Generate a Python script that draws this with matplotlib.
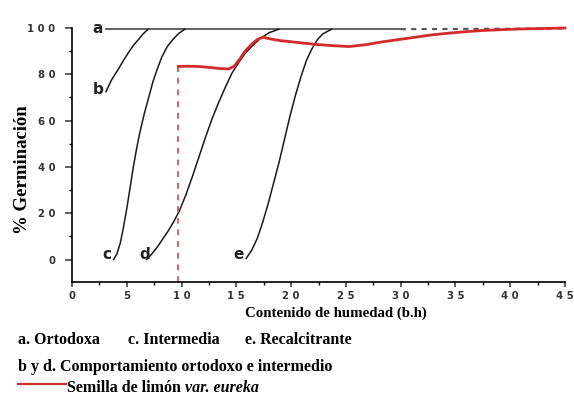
import matplotlib
matplotlib.use("Agg")
import matplotlib.pyplot as plt
from matplotlib.ticker import MultipleLocator, FixedLocator

# ---- data ----
a_x = [3.1, 30.0]
a_y = [99.5, 99.5]
a_dash_x = [30.0, 45.0]
a_dash_y = [99.5, 99.8]

b_x = [3.1, 3.6, 4.2, 4.7, 5.1, 5.6, 6.1, 6.5, 6.95]
b_y = [72.5, 77.5, 82.0, 86.0, 89.0, 92.5, 95.2, 97.5, 99.5]

c_x = [3.8, 4.1, 4.4, 4.7, 5.0, 5.3, 5.6, 5.9, 6.2, 6.6, 7.0, 7.4, 7.8, 8.2, 8.7,
       9.2, 9.7, 10.3]
c_y = [0.0, 2.5, 7.0, 14.0, 22.0, 31.0, 40.0, 48.0, 55.0, 63.0, 70.0, 77.0, 82.5,
       87.5, 92.0, 95.0, 97.5, 99.5]

d_x = [6.8, 7.3, 7.8, 8.3, 8.8, 9.3, 9.8, 10.4, 11.0, 11.6, 12.2, 12.8, 13.4, 14.0,
       14.6, 15.2, 15.8, 16.5, 17.2, 18.0, 18.9]
d_y = [0.0, 2.5, 5.5, 9.0, 12.5, 16.5, 21.0, 28.0, 36.0, 44.5, 53.0, 61.0, 68.0,
       74.5, 80.5, 85.0, 89.0, 92.5, 95.5, 98.0, 99.5]

e_x = [15.9, 16.4, 16.9, 17.4, 17.9, 18.4, 18.9, 19.4, 19.9, 20.4, 20.9, 21.4, 21.9,
       22.4, 22.9, 23.7]
e_y = [0.5, 4.0, 9.0, 16.0, 24.0, 33.0, 42.0, 52.0, 62.0, 71.0, 79.0, 86.0, 91.0,
       95.0, 97.5, 99.5]

lemon_x = [9.7, 10.5, 11.5, 12.5, 13.5, 14.3, 14.8, 15.3, 15.8, 16.4, 16.9, 17.4,
           18.2, 19.1, 20.5, 22.1, 23.7, 25.3, 26.8, 28.3, 29.8, 31.3, 32.8, 34.4,
           35.9, 37.4, 39.2, 41.0, 43.0, 45.0]
lemon_y = [83.4, 83.5, 83.4, 83.0, 82.5, 82.3, 83.5, 86.5, 90.0, 93.0, 95.0, 96.0,
           95.2, 94.5, 93.8, 93.0, 92.4, 92.0, 92.8, 94.0, 95.0, 96.0, 97.0, 97.8,
           98.4, 98.9, 99.3, 99.6, 99.8, 100.0]
lemon_drop_x = [9.7, 9.7]
lemon_drop_y = [-9.7, 83.0]

curve_labels = ["a", "b", "c", "d", "e"]
label_pos = [(2.3, 99.8), (2.4, 73.5), (3.2, 2.0), (6.6, 2.0), (15.2, 2.0)]

y_ticks = [0, 20, 40, 60, 80, 100]
y_ticklabels = ["0", "2 0", "4 0", "6 0", "8 0", "1 0 0"]
x_ticks = [0, 5, 10, 15, 20, 25, 30, 35, 40, 45]
x_ticklabels = ["0", "5", "1 0", "1 5", "2 0", "2 5", "3 0", "3 5", "4 0", "4 5"]

# ---- figure ----
W, H = 574, 399
fig = plt.figure(figsize=(W / 100, H / 100), dpi=100)
ax = fig.add_axes([72 / W, 117 / H, (565 - 72) / W, (373.3 - 117) / H])

blk = "#1a1a1a"
red = "#d42a2a"
ax.plot(a_x, a_y, color="#555555", lw=1.3, clip_on=False)
ax.plot(a_dash_x, a_dash_y, color="#555555", lw=1.5, ls=(0, (2.5, 2.5)), clip_on=False)
for xs, ys in [(b_x, b_y), (c_x, c_y), (d_x, d_y), (e_x, e_y)]:
    ax.plot(xs, ys, color=blk, lw=1.1, clip_on=False)
ax.plot(lemon_drop_x, lemon_drop_y, color="#e06060", lw=1.4, ls=(0, (3, 3)), clip_on=False)
ax.plot(lemon_x, lemon_y, color=red, lw=2.0, clip_on=False)

for t, (x, y) in zip(curve_labels, label_pos):
    ax.text(x, y, t, fontsize=11, fontweight="bold", color="#222222",
            ha="center", va="center", family="DejaVu Sans")

ax.set_xlim(0, 45)
ax.set_ylim(-9.7, 101)
for s in ["top", "right"]:
    ax.spines[s].set_visible(False)
ax.spines["left"].set_bounds(-9.7, 100)
ax.spines["left"].set_linewidth(1.2)
ax.spines["bottom"].set_linewidth(1.2)

ax.yaxis.set_major_locator(FixedLocator(y_ticks))
ax.set_yticklabels(y_ticklabels)
ax.yaxis.set_minor_locator(FixedLocator([10, 30, 50, 70, 90]))
ax.xaxis.set_major_locator(FixedLocator(x_ticks))
ax.set_xticklabels(x_ticklabels)
ax.xaxis.set_minor_locator(MultipleLocator(2.5))
ax.tick_params(axis="y", which="major", direction="out", length=5, width=1.1,
               labelsize=7.3, pad=7, colors="#333333")
ax.tick_params(axis="y", which="minor", direction="out", length=2.5, width=1.0)
ax.tick_params(axis="x", which="major", direction="out", length=3.5, width=1.1,
               labelsize=7.3, pad=3, colors="#333333")
ax.tick_params(axis="x", which="minor", direction="out", length=2.5, width=1.0)
for lab in ax.get_xticklabels() + ax.get_yticklabels():
    lab.set_fontweight("bold")

fig.text(23 / W, 1 - 170 / H, "% Germinación", rotation=90, ha="center", va="center",
         fontsize=13.5, fontweight="bold", family="Liberation Serif")
fig.text(336 / W, 1 - 313 / H, "Contenido de humedad (b.h)", ha="center", va="center",
         fontsize=10.7, fontweight="bold", family="Liberation Serif")

serif = dict(fontsize=11.5, fontweight="bold", family="Liberation Serif", va="center")
fig.text(18 / W, 1 - 340 / H, "a. Ortodoxa", **serif)
fig.text(128 / W, 1 - 340 / H, "c. Intermedia", **serif)
fig.text(245 / W, 1 - 340 / H, "e. Recalcitrante", **serif)
fig.text(18 / W, 1 - 367 / H, "b y d. Comportamiento ortodoxo e intermedio", **serif)
fig.add_artist(plt.Line2D([18 / W, 66 / W], [1 - 384 / H, 1 - 384 / H],
                          transform=fig.transFigure, color=red, lw=1.6))
t1 = fig.text(67 / W, 1 - 388 / H, "Semilla de limón ", **serif)
fig.canvas.draw()
bb = t1.get_window_extent()
fig.text(bb.x1 / W, 1 - 388 / H, "var. eureka", fontsize=11.5, fontweight="bold",
         style="italic", family="Liberation Serif", va="center")

fig.savefig("out.png", dpi=100)
